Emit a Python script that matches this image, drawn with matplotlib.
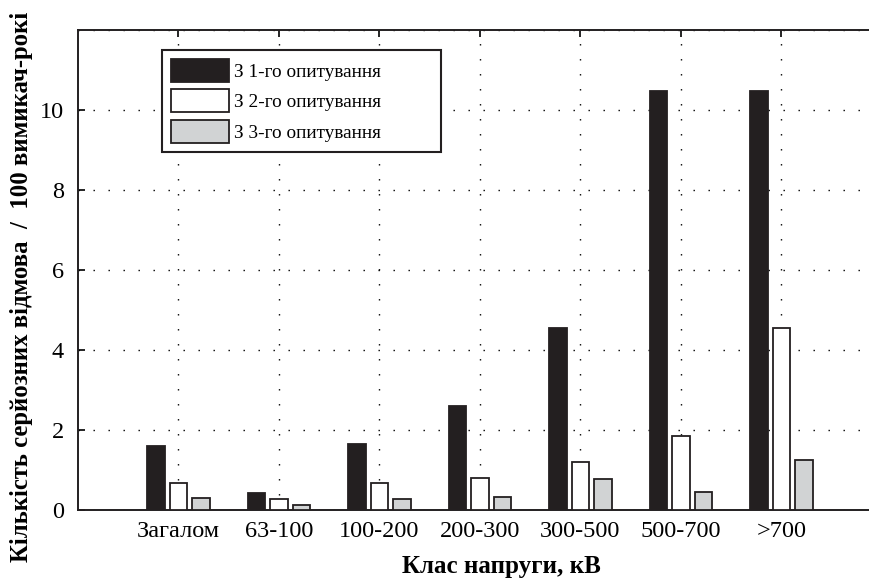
import matplotlib
matplotlib.use("Agg")
import matplotlib.pyplot as plt
from matplotlib.patches import Patch
import numpy as np

categories = ["Загалом", "63-100", "100-200", "200-300", "300-500", "500-700", ">700"]
survey1 = [1.60, 0.42, 1.64, 2.60, 4.56, 10.48, 10.48]
survey2 = [0.67, 0.27, 0.68, 0.81, 1.20, 1.85, 4.55]
survey3 = [0.29, 0.12, 0.27, 0.33, 0.77, 0.46, 1.25]
series_labels = ["З 1-го опитування", "З 2-го опитування", "З 3-го опитування"]
yticks = [0, 2, 4, 6, 8, 10]

plt.rcParams['font.family'] = ['Liberation Serif', 'DejaVu Serif']

fig = plt.figure(figsize=(8.7, 5.78), dpi=100)
W, H = 870, 578
ax = fig.add_axes([78 / W, (H - 510) / H, 804 / W, 480 / H])

x = np.arange(1, len(categories) + 1)
bw = 0.172
off = 0.224
colors = ["#231f20", "#ffffff", "#d1d3d4"]
edge = "#231f20"
for vals, dx, c in zip([survey1, survey2, survey3], [-off, 0, off], colors):
    ax.bar(x + dx, vals, width=bw, color=c, edgecolor=edge, linewidth=1.3, zorder=3)

ax.set_xlim(0, 8)
ax.set_ylim(0, 12)
ax.set_xticks(x)
ax.set_xticklabels(categories)
ax.set_yticks(yticks)
ax.set_yticks([12], minor=True)

ax.set_axisbelow(True)
ax.grid(True, which='both', color='black', linestyle=(0, (1, 9.8)), linewidth=1.0, zorder=0)

ax.tick_params(axis='both', which='major', direction='in', length=5, width=1.2,
               labelsize=17.5, top=True, pad=10, color='black')
ax.tick_params(axis='y', which='minor', left=False, right=False)
ax.tick_params(axis='x', pad=8)

for s in ['left', 'bottom', 'top']:
    ax.spines[s].set_linewidth(1.4)
    ax.spines[s].set_color('#231f20')
ax.spines['right'].set_visible(False)

ax.set_xlabel("Клас напруги, кВ", fontsize=18, fontweight='bold')
ax.xaxis.set_label_coords(0.527, -0.093)
ax.set_ylabel("Кількість серйозних відмова  /  100 вимикач-рокі", fontsize=17.8, fontweight='bold')
ax.yaxis.set_label_coords(-0.056, 0.4656)

handles = [Patch(facecolor=c, edgecolor=edge, linewidth=1.3) for c in colors]
leg = ax.legend(handles, series_labels, loc='upper left',
                bbox_to_anchor=(0.1045, 0.3, 0.347, 0.658), mode='expand',
                borderaxespad=0, fontsize=13.9, handlelength=3.0, handleheight=1.45,
                handletextpad=0.3, labelspacing=0.4, borderpad=0.45,
                fancybox=False, framealpha=1, edgecolor='#231f20')
leg.get_frame().set_linewidth(1.5)

fig.savefig("out.png", dpi=100)
